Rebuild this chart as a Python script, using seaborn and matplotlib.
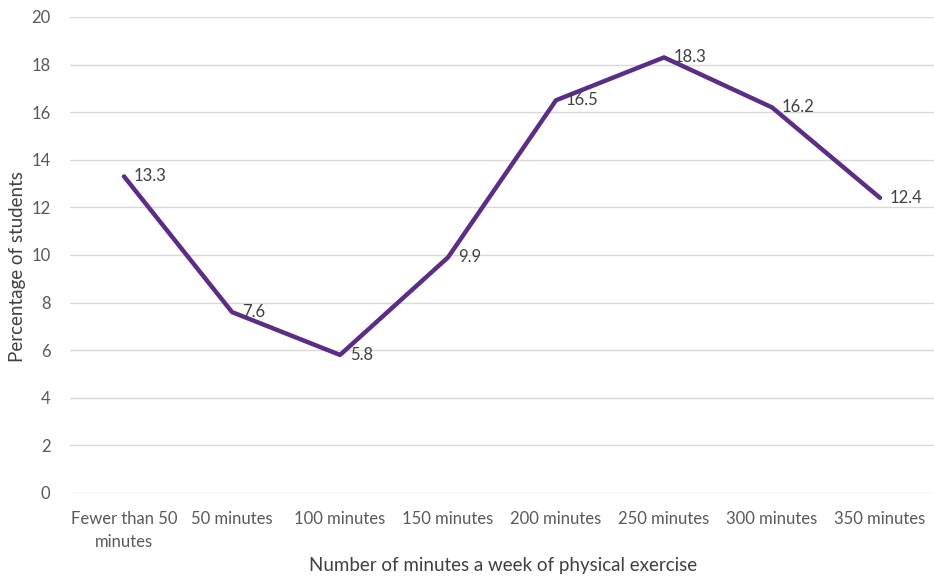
import matplotlib
matplotlib.use("Agg")
import matplotlib.pyplot as plt
import seaborn as sns
import pandas as pd

categories = ["Fewer than 50\nminutes", "50 minutes", "100 minutes", "150 minutes",
              "200 minutes", "250 minutes", "300 minutes", "350 minutes"]
percentages = [13.3, 7.6, 5.8, 9.9, 16.5, 18.3, 16.2, 12.4]
y_ticks = [0, 2, 4, 6, 8, 10, 12, 14, 16, 18, 20]

sns.set_theme(style="white")
plt.rcParams["font.family"] = ["Lato", "DejaVu Sans"]

df = pd.DataFrame({"minutes": categories, "pct": percentages})

W, H = 934, 577
fig = plt.figure(figsize=(W / 100, H / 100), dpi=100)
ax = fig.add_axes([0.075, 0.1456, 0.925, 0.825])

sns.lineplot(data=df, x="minutes", y="pct", ax=ax, color="#5C2D86",
             linewidth=3.2, sort=False)

for i, v in enumerate(percentages):
    ax.annotate(f"{v}", (i, v), xytext=(7, 0), textcoords="offset points",
                ha="left", va="center", fontsize=12, color="#404040")

ax.set_ylim(0, 20)
ax.set_xlim(-0.5, len(categories) - 0.5)
ax.set_yticks(y_ticks)
ax.set_xticks(range(len(categories)), categories, linespacing=1.55)
ax.yaxis.grid(True, color="#d9d9d9", linewidth=1)
ax.set_axisbelow(True)
for s in ax.spines.values():
    s.set_visible(False)
ax.tick_params(axis="both", length=0, labelsize=12, labelcolor="#595959")
ax.tick_params(axis="y", pad=14)
ax.tick_params(axis="x", pad=13)

ax.set_xlabel("")
ax.set_ylabel("")
fig.text(503 / W, 1 - 566 / H, "Number of minutes a week of physical exercise",
         ha="center", va="center", fontsize=13.5, color="#404040")
fig.text(18 / W, 1 - 267 / H, "Percentage of students", rotation=90,
         ha="center", va="center", fontsize=13.5, color="#404040")

fig.savefig("out.png", dpi=100)
